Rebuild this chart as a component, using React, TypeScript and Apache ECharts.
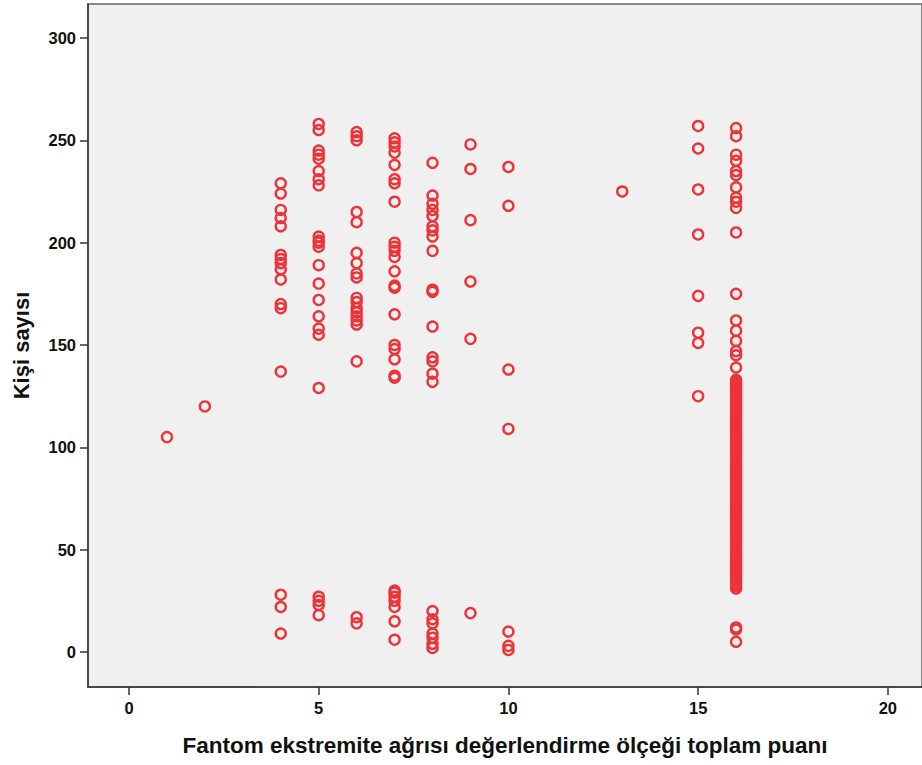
import React, { useEffect, useRef } from "react";
import * as echarts from "echarts";

const xTicks = [0, 5, 10, 15, 20];
const yTicks = [0, 50, 100, 150, 200, 250, 300];

const score1 = [105];
const score2 = [120];
const score4 = [229, 224, 216, 212, 208, 194, 192, 190, 187, 182, 170, 168, 137, 28, 22, 9];
const score5 = [258, 255, 245, 243, 241, 235, 231, 228, 203, 201, 200, 198, 189, 180, 172, 164, 158, 155, 129, 27, 25, 23, 18];
const score6 = [254, 252, 250, 215, 210, 195, 190, 185, 183, 173, 171, 168, 166, 164, 162, 160, 142, 17, 14];
const score7 = [251, 249, 247, 244, 238, 231, 229, 220, 200, 198, 196, 193, 186, 179, 178, 165, 150, 148, 143, 135, 134, 30, 29, 27, 25, 22, 15, 6];
const score8 = [239, 223, 219, 216, 213, 208, 206, 203, 196, 177, 176, 159, 144, 142, 136, 132, 20, 16, 14, 9, 7, 4, 2];
const score9 = [248, 236, 211, 181, 153, 19];
const score10 = [237, 218, 138, 109, 10, 3, 1];
const score13 = [225];
const score15 = [257, 246, 226, 204, 174, 156, 151, 125];
const score16 = [
  256, 252, 243, 240, 235, 233, 227, 222, 220, 217, 205, 175, 162, 157, 152, 147, 145, 139,
  133, 132, 131, 130, 129, 128, 127, 126, 125, 124, 123, 122, 121, 120, 119, 118, 117, 116,
  115, 114, 113, 112, 111, 110, 109, 108, 107, 106, 105, 104, 103, 102, 101, 100, 99, 98,
  97, 96, 95, 94, 93, 92, 91, 90, 89, 88, 87, 86, 85, 84, 83, 82, 81, 80, 79, 78, 77, 76,
  75, 74, 73, 72, 71, 70, 69, 68, 67, 66, 65, 64, 63, 62, 61, 60, 59, 58, 57, 56, 55, 54,
  53, 52, 51, 50, 49, 48, 47, 46, 45, 44, 43, 42, 41, 40, 39, 38, 37, 36, 35, 34, 33, 32, 31,
  12, 11, 5,
];

const groups: [number, number[]][] = [
  [1, score1], [2, score2], [4, score4], [5, score5], [6, score6], [7, score7],
  [8, score8], [9, score9], [10, score10], [13, score13], [15, score15], [16, score16],
];

const FONT = "'Liberation Sans', Arial, sans-serif";

export default function App() {
  const ref = useRef<HTMLDivElement>(null);
  useEffect(() => {
    if (!ref.current) return;
    const chart = echarts.init(ref.current, null, { renderer: "svg" });
    const data: number[][] = [];
    groups.forEach(([x, ys]) => ys.forEach((y) => data.push([x, y])));
    chart.setOption({
      animation: false,
      backgroundColor: "#ffffff",
      grid: {
        left: 88,
        top: 4,
        right: 0,
        bottom: 78,
        show: true,
        backgroundColor: "#f0f0f0",
        borderColor: "#666666",
        borderWidth: 1.5,
      },
      xAxis: {
        type: "value",
        min: -1.08,
        max: 20.9,
        name: "Fantom ekstremite ağrısı değerlendirme ölçeği toplam puanı",
        nameLocation: "middle",
        nameGap: 47,
        nameTextStyle: { fontFamily: FONT, fontWeight: "bold", fontSize: 22.5, color: "#111" },
        axisLine: { show: true, onZero: false, lineStyle: { color: "#333", width: 1.5 } },
        axisTick: { show: true, length: 8, lineStyle: { color: "#333", width: 1.5 }, customValues: xTicks },
        axisLabel: { fontFamily: FONT, fontWeight: "bold", fontSize: 16.5, color: "#111", margin: 12, customValues: xTicks },
        splitLine: { show: false },
      },
      yAxis: {
        type: "value",
        min: -17.1,
        max: 316.6,
        name: "Kişi sayısı",
        nameLocation: "middle",
        nameGap: 56,
        nameTextStyle: { fontFamily: FONT, fontWeight: "bold", fontSize: 22, color: "#111" },
        axisLine: { show: true, onZero: false, lineStyle: { color: "#333", width: 1.5 } },
        axisTick: { show: true, length: 8, lineStyle: { color: "#333", width: 1.5 }, customValues: yTicks },
        axisLabel: { fontFamily: FONT, fontWeight: "bold", fontSize: 16.5, color: "#111", margin: 12, customValues: yTicks },
        splitLine: { show: false },
      },
      series: [
        {
          type: "scatter",
          data,
          symbol: "circle",
          symbolSize: 10,
          itemStyle: {
            color: "rgba(0,0,0,0)",
            borderColor: "#ee3338",
            borderWidth: 2.4,
            opacity: 1,
          },
        },
      ],
    });
    return () => chart.dispose();
  }, []);
  return (
    <div
      ref={ref}
      style={{ position: "absolute", left: 0, top: 0, width: 922, height: 765 }}
    />
  );
}
